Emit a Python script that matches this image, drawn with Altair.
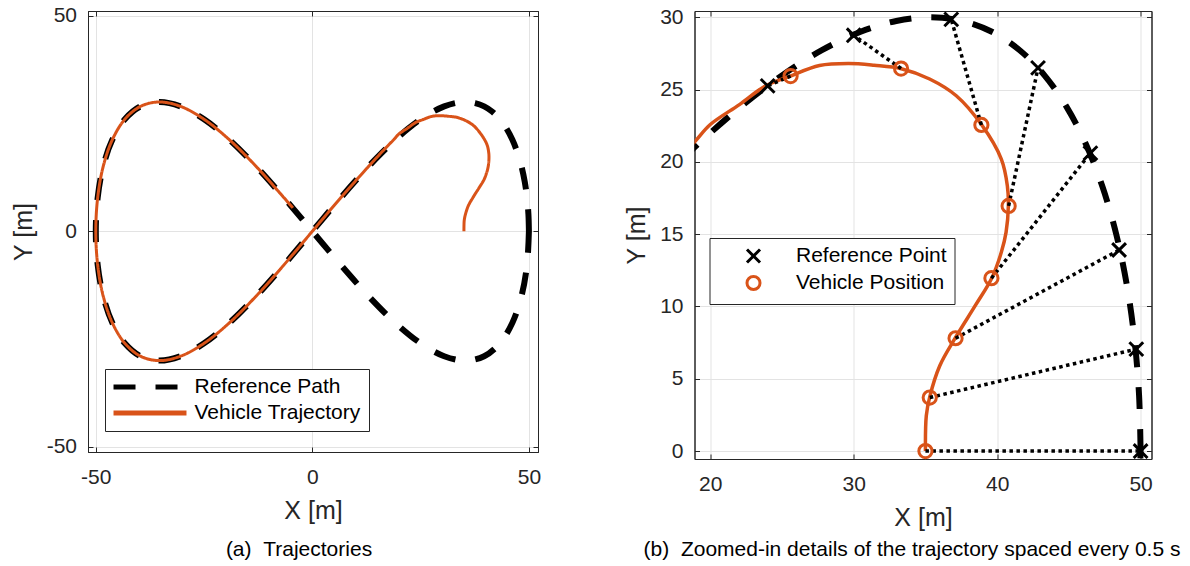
import altair as alt
import pandas as pd

# ---------------- data ----------------
# Reference path (figure-eight), listed along the path starting at (50, 0)
ref_x = [50.00, 49.89, 49.57, 49.04, 48.30, 47.35, 46.19, 44.84, 43.30, 41.57,
         39.67, 37.59, 35.36, 32.97, 30.44, 27.78, 25.00, 22.11, 19.13, 16.07,
         12.94, 6.53, 0.00, -6.53, -12.94, -19.13, -25.00, -30.44, -35.36, -39.67,
         -43.30, -46.19, -48.30, -49.57, -50.00, -49.57, -48.30, -46.19, -43.30, -39.67,
         -35.36, -30.44, -25.00, -19.13, -12.94, -6.53, 0.00, 6.53, 12.94, 19.13,
         25.00, 30.44, 35.36, 39.67, 43.30, 46.19, 48.30, 49.57, 50.00]
ref_y = [0.00, 3.92, 7.76, 11.48, 15.00, 18.26, 21.21, 23.80, 25.98, 27.72,
         28.98, 29.74, 30.00, 29.74, 28.98, 27.72, 25.98, 23.80, 21.21, 18.26,
         15.00, 7.76, 0.00, -7.76, -15.00, -21.21, -25.98, -28.98, -30.00, -28.98,
         -25.98, -21.21, -15.00, -7.76, 0.00, 7.76, 15.00, 21.21, 25.98, 28.98,
         30.00, 28.98, 25.98, 21.21, 15.00, 7.76, 0.00, -7.76, -15.00, -21.21,
         -25.98, -28.98, -30.00, -28.98, -25.98, -21.21, -15.00, -7.76, 0.00]

# Vehicle trajectory, starting at (35, 0)
veh_x = [35.00, 35.06, 35.30, 36.00, 37.08, 38.47, 39.62, 40.29, 40.62, 40.78,
         40.71, 40.29, 38.93, 37.15, 35.29, 33.32, 31.42, 29.64, 27.61, 25.58,
         23.81, 22.03, 20.00, 18.91, 17.00, 12.94, 6.53, 0.00, -6.53, -12.94,
         -19.13, -25.00, -30.44, -35.36, -39.67, -43.30, -46.19, -48.30, -49.57, -50.00,
         -49.57, -48.30, -46.19, -43.30, -39.67, -35.36, -30.44, -25.00, -19.13, -12.94,
         -6.53, -4.50]
veh_y = [0.00, 2.44, 3.75, 5.90, 7.82, 10.05, 11.95, 13.74, 15.12, 16.95,
         18.35, 20.19, 22.54, 24.57, 25.73, 26.44, 26.68, 26.80, 26.66, 25.93,
         25.22, 23.96, 22.58, 21.38, 19.40, 15.00, 7.76, 0.00, -7.76, -15.00,
         -21.21, -25.98, -28.98, -30.00, -28.98, -25.98, -21.21, -15.00, -7.76, 0.00,
         7.76, 15.00, 21.21, 25.98, 28.98, 30.00, 28.98, 25.98, 21.21, 15.00,
         7.76, 5.43]

# Samples every 0.5 s (right panel)
rp_x = [50.0, 49.7, 48.5, 46.5, 42.85, 36.8, 30.0, 24.0]
rp_y = [0.0, 7.05, 13.9, 20.6, 26.5, 29.85, 28.75, 25.25]
vp_x = [35.0, 35.3, 37.1, 39.6, 40.8, 38.9, 33.3, 25.6]
vp_y = [0.0, 3.7, 7.8, 11.95, 16.95, 22.55, 26.45, 25.93]

path_labels = ["Reference Path", "Vehicle Trajectory"]
point_labels = ["Reference Point", "Vehicle Position"]
caption_a = "(a)\u00a0\u00a0Trajectories"
caption_b = "(b)\u00a0\u00a0Zoomed-in details of the trajectory spaced every 0.5 s"

# ---------------- styling ----------------
ORANGE = "#D95319"
INK = "#262626"
GRID = "#e3e3e3"
FONT = "Liberation Sans"
DASH = [22, 20]

ref_df = pd.DataFrame({"x": ref_x, "y": ref_y, "i": list(range(len(ref_x))),
                       "series": path_labels[0]})
veh_df = pd.DataFrame({"x": veh_x, "y": veh_y, "i": list(range(len(veh_x))),
                       "series": path_labels[1]})
pts_df = pd.concat([
    pd.DataFrame({"x": rp_x, "y": rp_y, "kind": point_labels[0], "sz": 190}),
    pd.DataFrame({"x": vp_x, "y": vp_y, "kind": point_labels[1], "sz": 175}),
], ignore_index=True)
links_df = pd.DataFrame({"x": vp_x, "y": vp_y, "x2": rp_x, "y2": rp_y})

INWARD = {"expr": "-5"}


def main_axis(ticks, title, lab_pad, title_pad):
    return alt.Axis(values=ticks, title=title, grid=True, gridColor=GRID,
                    tickSize=INWARD, tickColor=INK, domainColor=INK,
                    labelPadding=lab_pad, titlePadding=title_pad,
                    labelExpr="'' + datum.value")


def mirror_axis(ticks, orient):
    return alt.Axis(values=ticks, orient=orient, title=None, labels=False,
                    grid=False, tickSize=INWARD, tickColor=INK, domainColor=INK)


# ---- left panel
xs_a = alt.Scale(domain=[-51.8, 52.1], nice=False, zero=False)
ys_a = alt.Scale(domain=[-51.2, 51.1], nice=False, zero=False)
path_legend = alt.Legend(
    title=None, orient="none", legendX=17, legendY=358,
    fillColor="white", strokeColor=INK, padding=7.5,
    symbolType="M-5,0L5,0", symbolSize=213, symbolStrokeWidth=5,
    symbolOffset=27, labelOffset=34, labelFontSize=21, labelColor="black",
    labelLimit=400, rowPadding=4)
color_a = alt.Color("series:N", scale=alt.Scale(domain=path_labels,
                    range=["black", ORANGE]), legend=path_legend)
dash_a = alt.StrokeDash("series:N", scale=alt.Scale(domain=path_labels,
                        range=[DASH, [1, 0]]), legend=path_legend)

ref_a = alt.Chart(ref_df).mark_line(strokeWidth=6, interpolate="catmull-rom").encode(
    x=alt.X("x:Q", scale=xs_a, axis=main_axis([-50, 0, 50], "X [m]", 19, 11)),
    y=alt.Y("y:Q", scale=ys_a, axis=main_axis([-50, 0, 50], "Y [m]", 16.5, 10)),
    order="i:Q", color=color_a, strokeDash=dash_a)
veh_a = alt.Chart(veh_df).mark_line(strokeWidth=3, interpolate="catmull-rom").encode(
    x=alt.X("x:Q", scale=xs_a, axis=mirror_axis([-50, 0, 50], "top")),
    y=alt.Y("y:Q", scale=ys_a, axis=mirror_axis([-50, 0, 50], "right")),
    order="i:Q", color=color_a, strokeDash=dash_a)

left = alt.layer(ref_a, veh_a).resolve_axis(x="independent", y="independent").properties(
    width=450, height=441,
    title=alt.TitleParams(caption_a, orient="bottom", anchor="middle", fontSize=21,
                          fontWeight="normal", color="black", offset=16, dx=-14))

# ---- right panel
xs_b = alt.Scale(domain=[18.9, 50.76], nice=False, zero=False)
ys_b = alt.Scale(domain=[-0.55, 30.43], nice=False, zero=False)
xt_b = [20, 30, 40, 50]
yt_b = [0, 5, 10, 15, 20, 25, 30]

ref_b = alt.Chart(ref_df).mark_line(strokeWidth=6, interpolate="catmull-rom",
                                    clip=True, color="black", strokeDash=DASH).encode(
    x=alt.X("x:Q", scale=xs_b, axis=main_axis(xt_b, "X [m]", 19, 11)),
    y=alt.Y("y:Q", scale=ys_b, axis=main_axis(yt_b, "Y [m]", 16.5, 10)),
    order="i:Q")
veh_b = alt.Chart(veh_df).mark_line(strokeWidth=3.5, interpolate="catmull-rom",
                                    clip=True, color=ORANGE).encode(
    x=alt.X("x:Q", scale=xs_b, axis=mirror_axis(xt_b, "top")),
    y=alt.Y("y:Q", scale=ys_b, axis=mirror_axis(yt_b, "right")),
    order="i:Q")

links = alt.Chart(links_df).mark_rule(color="black", strokeWidth=3.5,
                                      strokeDash=[3.5, 3.5]).encode(
    x=alt.X("x:Q", scale=xs_b, axis=None), y=alt.Y("y:Q", scale=ys_b, axis=None),
    x2="x2:Q", y2="y2:Q")

pt_legend = alt.Legend(title=None, orient="none", legendX=15, legendY=227,
                       fillColor="white", strokeColor=INK, padding=7.5,
                       symbolSize=170, symbolStrokeWidth=3, labelFontSize=21,
                       labelColor="black", symbolOffset=26, labelOffset=32,
                       rowPadding=0, labelLimit=400)
X_SHAPE = "M-1,-1L1,1M-1,1L1,-1"
points = alt.Chart(pts_df).mark_point(filled=False, strokeWidth=3, opacity=1).encode(
    x=alt.X("x:Q", scale=xs_b, axis=None), y=alt.Y("y:Q", scale=ys_b, axis=None),
    color=alt.Color("kind:N", scale=alt.Scale(domain=point_labels,
                                              range=["black", ORANGE]),
                    legend=pt_legend),
    shape=alt.Shape("kind:N", scale=alt.Scale(domain=point_labels,
                                              range=[X_SHAPE, "circle"]),
                    legend=pt_legend),
    size=alt.Size("sz:Q", scale=None))

right = alt.layer(ref_b, veh_b, links, points).resolve_axis(
    x="independent", y="independent").properties(
    width=457, height=448,
    title=alt.TitleParams(caption_b, orient="bottom", anchor="middle", fontSize=21,
                          fontWeight="normal", color="black", offset=9, dx=-11))

chart = alt.hconcat(left, right, spacing=81.5).resolve_scale(
    color="independent", strokeDash="independent", shape="independent",
    x="independent", y="independent").resolve_legend(
    color="independent", strokeDash="independent", shape="independent").properties(
    padding={"left": 10, "top": 4, "right": 5, "bottom": 0},
    background="white").configure(font=FONT).configure_view(
    stroke=INK, strokeWidth=1).configure_axis(
    labelFontSize=21, titleFontSize=25, titleFontWeight="normal",
    labelColor=INK, titleColor=INK, labelFont=FONT, titleFont=FONT)

chart.save("out.html", embed_options={"renderer": "svg", "actions": False})
